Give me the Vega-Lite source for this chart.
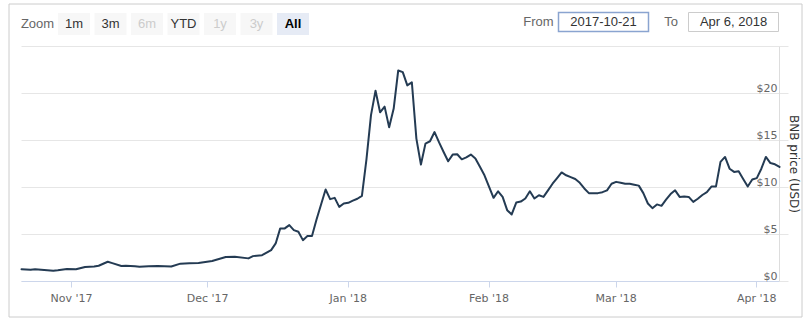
{
  "$schema": "https://vega.github.io/schema/vega-lite/v6.json",
  "width": 793,
  "height": 313,
  "autosize": {"type": "none"},
  "padding": {"left": 8.5, "top": 3.5, "right": 5.5, "bottom": 3.5},
  "background": "#ffffff",
  "config": {
    "view": {"stroke": "#cccccc", "strokeWidth": 1},
    "font": "DejaVu Sans",
    "axis": {"translate": 0}
  },
  "datasets": {
    "prices": [
      {"date": "2017-10-21", "price": 1.30},
      {"date": "2017-10-23", "price": 1.24},
      {"date": "2017-10-24", "price": 1.30},
      {"date": "2017-10-26", "price": 1.22},
      {"date": "2017-10-28", "price": 1.15},
      {"date": "2017-10-29", "price": 1.20},
      {"date": "2017-10-31", "price": 1.33},
      {"date": "2017-11-02", "price": 1.30},
      {"date": "2017-11-04", "price": 1.54},
      {"date": "2017-11-06", "price": 1.60},
      {"date": "2017-11-07", "price": 1.68},
      {"date": "2017-11-09", "price": 2.10},
      {"date": "2017-11-10", "price": 1.95},
      {"date": "2017-11-12", "price": 1.65},
      {"date": "2017-11-13", "price": 1.68},
      {"date": "2017-11-15", "price": 1.62},
      {"date": "2017-11-16", "price": 1.57},
      {"date": "2017-11-18", "price": 1.62},
      {"date": "2017-11-20", "price": 1.65},
      {"date": "2017-11-23", "price": 1.60},
      {"date": "2017-11-25", "price": 1.90},
      {"date": "2017-11-27", "price": 1.93},
      {"date": "2017-11-29", "price": 1.96},
      {"date": "2017-12-02", "price": 2.18},
      {"date": "2017-12-05", "price": 2.60},
      {"date": "2017-12-07", "price": 2.63},
      {"date": "2017-12-10", "price": 2.46},
      {"date": "2017-12-11", "price": 2.70},
      {"date": "2017-12-13", "price": 2.80},
      {"date": "2017-12-15", "price": 3.34},
      {"date": "2017-12-16", "price": 4.05},
      {"date": "2017-12-17", "price": 5.65},
      {"date": "2017-12-18", "price": 5.65},
      {"date": "2017-12-19", "price": 6.00},
      {"date": "2017-12-20", "price": 5.47},
      {"date": "2017-12-21", "price": 5.29},
      {"date": "2017-12-22", "price": 4.40},
      {"date": "2017-12-23", "price": 4.83},
      {"date": "2017-12-24", "price": 4.83},
      {"date": "2017-12-25", "price": 6.60},
      {"date": "2017-12-26", "price": 8.20},
      {"date": "2017-12-27", "price": 9.79},
      {"date": "2017-12-28", "price": 8.76},
      {"date": "2017-12-29", "price": 8.90},
      {"date": "2017-12-30", "price": 7.94},
      {"date": "2017-12-31", "price": 8.30},
      {"date": "2018-01-01", "price": 8.37},
      {"date": "2018-01-02", "price": 8.60},
      {"date": "2018-01-03", "price": 8.80},
      {"date": "2018-01-04", "price": 9.11},
      {"date": "2018-01-05", "price": 13.0},
      {"date": "2018-01-06", "price": 17.7},
      {"date": "2018-01-07", "price": 20.3},
      {"date": "2018-01-08", "price": 18.0},
      {"date": "2018-01-09", "price": 18.6},
      {"date": "2018-01-10", "price": 16.4},
      {"date": "2018-01-11", "price": 18.4},
      {"date": "2018-01-12", "price": 22.45},
      {"date": "2018-01-13", "price": 22.27},
      {"date": "2018-01-14", "price": 20.86},
      {"date": "2018-01-15", "price": 21.2},
      {"date": "2018-01-16", "price": 15.2},
      {"date": "2018-01-17", "price": 12.44},
      {"date": "2018-01-18", "price": 14.67},
      {"date": "2018-01-19", "price": 14.92},
      {"date": "2018-01-20", "price": 15.9},
      {"date": "2018-01-21", "price": 14.8},
      {"date": "2018-01-22", "price": 13.78},
      {"date": "2018-01-23", "price": 12.79},
      {"date": "2018-01-24", "price": 13.5},
      {"date": "2018-01-25", "price": 13.54},
      {"date": "2018-01-26", "price": 13.0},
      {"date": "2018-01-27", "price": 13.2},
      {"date": "2018-01-28", "price": 13.5},
      {"date": "2018-01-29", "price": 13.08},
      {"date": "2018-01-30", "price": 12.2},
      {"date": "2018-01-31", "price": 11.3},
      {"date": "2018-02-01", "price": 10.1},
      {"date": "2018-02-02", "price": 8.9},
      {"date": "2018-02-03", "price": 9.6},
      {"date": "2018-02-04", "price": 9.0},
      {"date": "2018-02-05", "price": 7.59},
      {"date": "2018-02-06", "price": 7.13},
      {"date": "2018-02-07", "price": 8.4},
      {"date": "2018-02-08", "price": 8.5},
      {"date": "2018-02-09", "price": 8.83},
      {"date": "2018-02-10", "price": 9.6},
      {"date": "2018-02-11", "price": 8.83},
      {"date": "2018-02-12", "price": 9.18},
      {"date": "2018-02-13", "price": 9.0},
      {"date": "2018-02-14", "price": 9.7},
      {"date": "2018-02-15", "price": 10.4},
      {"date": "2018-02-16", "price": 11.0},
      {"date": "2018-02-17", "price": 11.6},
      {"date": "2018-02-18", "price": 11.3},
      {"date": "2018-02-19", "price": 11.1},
      {"date": "2018-02-20", "price": 10.9},
      {"date": "2018-02-21", "price": 10.5},
      {"date": "2018-02-22", "price": 9.9},
      {"date": "2018-02-23", "price": 9.4},
      {"date": "2018-02-24", "price": 9.4},
      {"date": "2018-02-25", "price": 9.4},
      {"date": "2018-02-26", "price": 9.5},
      {"date": "2018-02-27", "price": 9.7},
      {"date": "2018-02-28", "price": 10.4},
      {"date": "2018-03-01", "price": 10.6},
      {"date": "2018-03-02", "price": 10.5},
      {"date": "2018-03-03", "price": 10.4},
      {"date": "2018-03-04", "price": 10.4},
      {"date": "2018-03-05", "price": 10.3},
      {"date": "2018-03-06", "price": 10.2},
      {"date": "2018-03-07", "price": 9.4},
      {"date": "2018-03-08", "price": 8.3},
      {"date": "2018-03-09", "price": 7.8},
      {"date": "2018-03-10", "price": 8.2},
      {"date": "2018-03-11", "price": 8.05},
      {"date": "2018-03-12", "price": 8.7},
      {"date": "2018-03-13", "price": 9.3},
      {"date": "2018-03-14", "price": 9.7},
      {"date": "2018-03-15", "price": 9.0},
      {"date": "2018-03-16", "price": 9.05},
      {"date": "2018-03-17", "price": 9.0},
      {"date": "2018-03-18", "price": 8.47},
      {"date": "2018-03-19", "price": 8.8},
      {"date": "2018-03-20", "price": 9.2},
      {"date": "2018-03-21", "price": 9.5},
      {"date": "2018-03-22", "price": 10.1},
      {"date": "2018-03-23", "price": 10.1},
      {"date": "2018-03-24", "price": 12.72},
      {"date": "2018-03-25", "price": 13.25},
      {"date": "2018-03-26", "price": 12.0},
      {"date": "2018-03-27", "price": 11.66},
      {"date": "2018-03-28", "price": 11.73},
      {"date": "2018-03-29", "price": 10.9},
      {"date": "2018-03-30", "price": 10.1},
      {"date": "2018-03-31", "price": 10.85},
      {"date": "2018-04-01", "price": 11.0},
      {"date": "2018-04-02", "price": 12.0},
      {"date": "2018-04-03", "price": 13.25},
      {"date": "2018-04-04", "price": 12.6},
      {"date": "2018-04-05", "price": 12.47},
      {"date": "2018-04-06", "price": 12.19}
    ],
    "toolbar": [
      {"group": "zoom", "item": "Zoom", "kind": "label"},
      {"group": "zoom", "item": "1m", "kind": "button"},
      {"group": "zoom", "item": "3m", "kind": "button"},
      {"group": "zoom", "item": "6m", "kind": "disabled"},
      {"group": "zoom", "item": "YTD", "kind": "button"},
      {"group": "zoom", "item": "1y", "kind": "disabled"},
      {"group": "zoom", "item": "3y", "kind": "disabled"},
      {"group": "zoom", "item": "All", "kind": "selected"},
      {"group": "range", "item": "From", "kind": "label"},
      {"group": "range", "item": "2017-10-21", "kind": "focused"},
      {"group": "range", "item": "To", "kind": "label"},
      {"group": "range", "item": "Apr 6, 2018", "kind": "input"}
    ]
  },
  "layer": [
    {
      "data": {"name": "prices"},
      "mark": {"type": "line", "color": "#243b53", "strokeWidth": 2, "strokeJoin": "round", "strokeCap": "round"},
      "encoding": {
        "x": {
          "field": "date", "type": "temporal",
          "scale": {
            "domain": [{"year": 2017, "month": 10, "date": 21, "utc": true}, {"year": 2018, "month": 4, "date": 6, "utc": true}],
            "range": [13, 771]
          },
          "axis": {
            "orient": "bottom", "offset": -35, "translate": 0,
            "values": [
              {"year": 2017, "month": 11, "date": 1, "utc": true},
              {"year": 2017, "month": 12, "date": 1, "utc": true},
              {"year": 2018, "month": 1, "date": 1, "utc": true},
              {"year": 2018, "month": 2, "date": 1, "utc": true},
              {"year": 2018, "month": 3, "date": 1, "utc": true},
              {"year": 2018, "month": 4, "date": 1, "utc": true}
            ],
            "labelExpr": "utcFormat(datum.value, \"%b '%y\")",
            "domainColor": "#ccd6eb", "tickColor": "#ccd6eb", "tickSize": 6,
            "labelPadding": 5, "labelFont": "DejaVu Sans", "labelFontSize": 11, "labelColor": "#666666",
            "labelFlush": false, "labelOverlap": false, "grid": false, "title": null
          }
        },
        "y": {
          "field": "price", "type": "quantitative",
          "scale": {"domain": [0, 25], "range": [278, 43], "nice": false, "zero": false},
          "axis": {
            "orient": "left", "offset": -771, "translate": 0,
            "values": [0, 5, 10, 15, 20, 25],
            "grid": true, "gridColor": "#e6e6e6",
            "domain": true, "domainColor": "#dddddd",
            "ticks": true, "tickSize": -9, "tickColor": "#e6e6e6",
            "labelAlign": "right", "labelPadding": 11, "labelBaseline": "alphabetic", "labelOffset": -2,
            "labelExpr": "datum.value == 25 ? '' : '$' + datum.label",
            "labelFont": "DejaVu Sans", "labelFontSize": 11, "labelColor": "#666666",
            "labelFlush": false, "labelOverlap": false,
            "title": "BNB price (USD)", "titleAngle": 90, "titleX": 14, "titleY": 160.5,
            "titleAlign": "center", "titleBaseline": "middle",
            "titleFont": "DejaVu Sans", "titleFontSize": 12, "titleFontWeight": "normal", "titleColor": "#333333"
          }
        }
      }
    },
    {
      "data": {"name": "toolbar"},
      "transform": [{"filter": "datum.group === 'zoom' && datum.kind !== 'label'"}],
      "mark": {"type": "rect"},
      "encoding": {
        "x": {"field": "item", "type": "nominal", "scale": {"type": "band", "domain": ["Zoom", "1m", "3m", "6m", "YTD", "1y", "3y", "All"], "range": [10.75, 302.75], "paddingInner": 0.1233, "paddingOuter": 0.0616}, "axis": null},
        "y": {"field": "group", "type": "nominal", "scale": {"type": "band", "domain": ["zoom"], "range": [9.5, 31.5], "paddingInner": 0, "paddingOuter": 0}, "axis": null},
        "fill": {"condition": {"test": "datum.kind === 'selected'", "value": "#e6ebf5"}, "value": "#f7f7f7"}
      }
    },
    {
      "data": {"name": "toolbar"},
      "transform": [{"filter": "datum.group === 'zoom' && datum.kind !== 'selected'"}],
      "mark": {"type": "text", "font": "Liberation Sans", "fontSize": 13, "baseline": "middle", "align": "center"},
      "encoding": {
        "x": {"field": "item", "type": "nominal", "scale": {"type": "band", "domain": ["Zoom", "1m", "3m", "6m", "YTD", "1y", "3y", "All"], "range": [10.75, 302.75], "paddingInner": 0.1233, "paddingOuter": 0.0616}, "axis": null},
        "y": {"field": "group", "type": "nominal", "scale": {"type": "band", "domain": ["zoom"], "range": [9.5, 31.5], "paddingInner": 0, "paddingOuter": 0}, "axis": null},
        "text": {"field": "item"},
        "color": {"condition": [{"test": "datum.kind === 'disabled'", "value": "#cccccc"}, {"test": "datum.kind === 'label'", "value": "#666666"}], "value": "#333333"}
      }
    },
    {
      "data": {"name": "toolbar"},
      "transform": [{"filter": "datum.kind === 'selected'"}],
      "mark": {"type": "text", "font": "Liberation Sans", "fontSize": 13, "fontWeight": "bold", "baseline": "middle", "align": "center", "color": "#000000"},
      "encoding": {
        "x": {"field": "item", "type": "nominal", "scale": {"type": "band", "domain": ["Zoom", "1m", "3m", "6m", "YTD", "1y", "3y", "All"], "range": [10.75, 302.75], "paddingInner": 0.1233, "paddingOuter": 0.0616}, "axis": null},
        "y": {"field": "group", "type": "nominal", "scale": {"type": "band", "domain": ["zoom"], "range": [9.5, 31.5], "paddingInner": 0, "paddingOuter": 0}, "axis": null},
        "text": {"field": "item"}
      }
    },
    {
      "data": {"name": "toolbar"},
      "transform": [{"filter": "datum.kind === 'focused' || datum.kind === 'input'"}],
      "mark": {"type": "rect", "fill": "#ffffff"},
      "encoding": {
        "x": {"field": "item", "type": "nominal", "scale": {"type": "band", "domain": ["2017-10-21", "Apr 6, 2018"], "range": [550, 770], "paddingInner": 0.307692, "paddingOuter": 0}, "axis": null},
        "y": {"field": "group", "type": "nominal", "scale": {"type": "band", "domain": ["range"], "range": [9, 28], "paddingInner": 0, "paddingOuter": 0}, "axis": null},
        "stroke": {"condition": {"test": "datum.kind === 'focused'", "value": "#8aa4d0"}, "value": "#cccccc"},
        "strokeWidth": {"condition": {"test": "datum.kind === 'focused'", "value": 1.5}, "value": 1}
      }
    },
    {
      "data": {"name": "toolbar"},
      "transform": [{"filter": "datum.kind === 'focused' || datum.kind === 'input'"}],
      "mark": {"type": "text", "font": "Liberation Sans", "fontSize": 13, "baseline": "middle", "align": "center", "color": "#333333"},
      "encoding": {
        "x": {"field": "item", "type": "nominal", "scale": {"type": "band", "domain": ["2017-10-21", "Apr 6, 2018"], "range": [550, 770], "paddingInner": 0.307692, "paddingOuter": 0}, "axis": null},
        "y": {"field": "group", "type": "nominal", "scale": {"type": "band", "domain": ["range"], "range": [9, 28], "paddingInner": 0, "paddingOuter": 0}, "axis": null},
        "text": {"field": "item"}
      }
    },
    {
      "data": {"name": "toolbar"},
      "transform": [{"filter": "datum.group === 'range' && datum.kind === 'label'"}],
      "mark": {"type": "text", "font": "Liberation Sans", "fontSize": 13, "baseline": "middle", "align": "center", "color": "#666666"},
      "encoding": {
        "x": {"field": "item", "type": "nominal", "scale": {"type": "point", "domain": ["From", "To"], "range": [530, 662.5], "padding": 0}, "axis": null},
        "y": {"field": "group", "type": "nominal", "scale": {"type": "band", "domain": ["range"], "range": [9, 28], "paddingInner": 0, "paddingOuter": 0}, "axis": null},
        "text": {"field": "item"}
      }
    }
  ],
  "resolve": {"scale": {"x": "independent", "y": "independent"}}
}
